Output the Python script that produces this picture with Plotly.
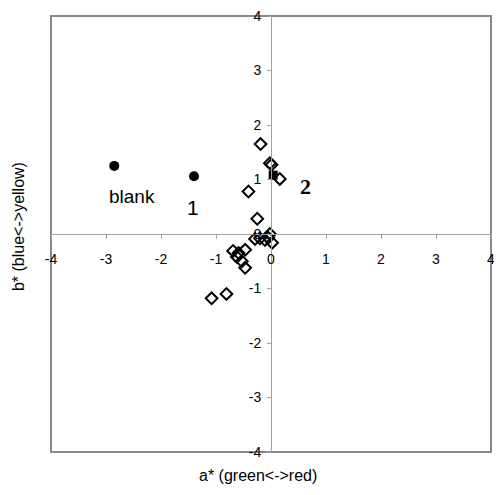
import plotly.graph_objects as go

circle_x = [-2.85, -1.40]
circle_y = [1.25, 1.06]
square_x = [0.04]
square_y = [1.08]
diamond_x = [-0.19, -0.02, 0.01, 0.16, -0.41, -0.25, -0.29, -0.20, -0.11, -0.02,
             0.02, -0.05, -0.69, -0.59, -0.47, -0.62, -0.53, -0.47, -1.08, -0.81]
diamond_y = [1.65, 1.30, 1.27, 1.01, 0.78, 0.28, -0.09, -0.08, -0.11, 0.00,
             -0.16, -0.07, -0.31, -0.35, -0.29, -0.42, -0.50, -0.62, -1.18, -1.10]
tick_vals = [-4, -3, -2, -1, 0, 1, 2, 3, 4]
tick_text = ["-4", "-3", "-2", "-1", "0", "1", "2", "3", "4"]

fig = go.Figure()
fig.add_trace(go.Scatter(x=diamond_x, y=diamond_y, mode="markers",
                         marker=dict(symbol="diamond-open", size=9, color="black",
                                     line=dict(width=2, color="black"))))
fig.add_trace(go.Scatter(x=circle_x, y=circle_y, mode="markers",
                         marker=dict(symbol="circle", size=10, color="black")))
fig.add_trace(go.Scatter(x=square_x, y=square_y, mode="markers",
                         marker=dict(symbol="square", size=9, color="black")))

axis_common = dict(range=[-4, 4], tickvals=tick_vals, ticktext=tick_text,
                   showgrid=False, zeroline=False, showline=True,
                   linecolor="#a0a0a0", linewidth=1, ticks="outside",
                   ticklen=4, tickcolor="#a0a0a0", automargin=False,
                   ticklabeloverflow="allow",
                   tickfont=dict(family="Liberation Sans, Arial", size=14, color="black"),
                   anchor="free", position=0.5, fixedrange=True)

# page body has an 8px default margin, so the figure is offset by 8px
fig.update_layout(
    width=494, height=487,
    margin=dict(l=43, r=11, t=8, b=43, autoexpand=False),
    plot_bgcolor="white", paper_bgcolor="white",
    showlegend=False,
    xaxis=dict(**axis_common, ticklabelstandoff=8),
    yaxis=dict(**axis_common, ticklabelstandoff=3),
    shapes=[dict(type="rect", xref="paper", yref="paper", x0=0, y0=0, x1=1, y1=1,
                 line=dict(color="#888888", width=2), layer="below")],
    annotations=[
        dict(text="a* (green&lt;-&gt;red)", xref="paper", yref="paper", x=0.47, y=-0.053,
             xanchor="center", yanchor="middle", showarrow=False,
             font=dict(family="Liberation Sans, Arial", size=16, color="black")),
        dict(text="b* (blue&lt;-&gt;yellow)", xref="paper", yref="paper", x=-0.075, y=0.516,
             xanchor="center", yanchor="middle", textangle=-90, showarrow=False,
             font=dict(family="Liberation Sans, Arial", size=16, color="black")),
        dict(text="blank", x=-2.53, y=0.68, showarrow=False,
             font=dict(family="Liberation Sans, Arial", size=19, color="black")),
        dict(text="1", x=-1.42, y=0.48, showarrow=False,
             font=dict(family="Liberation Sans, Arial", size=21, color="black")),
        dict(text="<b>2</b>", x=0.62, y=0.88, showarrow=False,
             font=dict(family="Liberation Serif, Times New Roman", size=22, color="black")),
    ],
)

fig.write_html("out.html")
